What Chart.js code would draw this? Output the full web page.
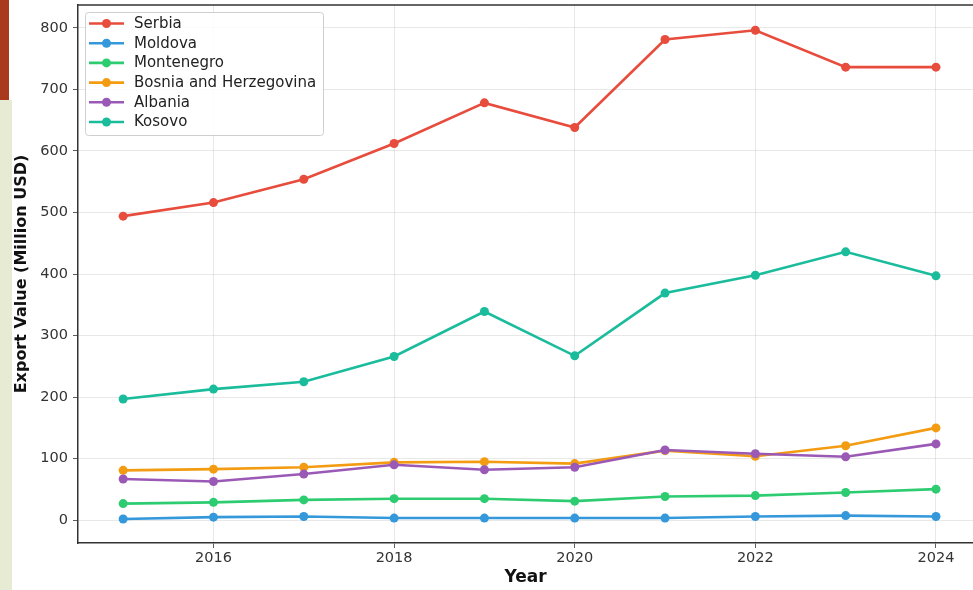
<!DOCTYPE html>
<html>
<head>
<meta charset="utf-8">
<script src="https://cdn.jsdelivr.net/npm/chart.js@4.4.1/dist/chart.umd.min.js"></script>
<style>
    body { margin: 0; overflow: hidden; background: #fff; width: 973px; height: 590px; position: relative; }
    #strip-red { position: absolute; left: 0; top: 0; width: 9px; height: 100px; background: #a93a1e; }
    #strip-beige { position: absolute; left: 0; top: 100px; width: 12px; height: 490px; background: #e7ebd3; }
    #wrap { position: absolute; left: 0; top: 0; width: 973px; height: 590px; }
</style>
</head>
<body>
<div id="strip-red"></div>
<div id="strip-beige"></div>
<div id="wrap"><canvas id="exports-chart" width="973" height="590"></canvas></div>
<script>
// Export values in million USD
const years = [2015, 2016, 2017, 2018, 2019, 2020, 2021, 2022, 2023, 2024];
const serbia      = [494, 516, 554, 612, 678, 638, 781, 796, 736, 736];
const moldova     = [2, 5, 6, 3.5, 3.5, 3.5, 3.5, 6, 7.5, 6];
const montenegro  = [27, 29, 33, 35, 35, 31, 38.5, 40, 45, 50.5];
const bosnia      = [81, 83, 86, 94, 95, 92, 113, 104, 121, 150];
const albania     = [67, 63, 75, 90, 82, 86, 114, 108, 103, 124];
const kosovo      = [197, 213, 225, 266, 339, 267, 369, 398, 436, 397];

const seriesNames  = ['Serbia', 'Moldova', 'Montenegro', 'Bosnia and Herzegovina', 'Albania', 'Kosovo'];
const seriesValues = [serbia, moldova, montenegro, bosnia, albania, kosovo];
const seriesColors = ['#e74c3c', '#3498db', '#2ecc71', '#f39c12', '#9b59b6', '#1abc9c'];

const xTicks = [2016, 2018, 2020, 2022, 2024];
const yTicks = [0, 100, 200, 300, 400, 500, 600, 700, 800];

const FONT = "'DejaVu Sans', sans-serif";

const datasets = seriesNames.map((name, i) => ({
    label: name,
    data: years.map((yr, j) => ({ x: yr, y: seriesValues[i][j] })),
    borderColor: seriesColors[i],
    backgroundColor: seriesColors[i],
    borderWidth: 2.6,
    pointRadius: 4.5,
    pointBorderWidth: 0,
    pointHoverRadius: 4.5,
    tension: 0,
    order: seriesNames.length - i   // later series drawn on top, like matplotlib
}));

// top spine of the axes box (the right one falls outside the crop)
const frame = {
    id: 'frame',
    afterDatasetsDraw(chart) {
        const { ctx, chartArea: a } = chart;
        ctx.save();
        ctx.strokeStyle = '#333';
        ctx.lineWidth = 1.5;
        ctx.beginPath();
        ctx.moveTo(a.left, a.top);
        ctx.lineTo(a.right, a.top);
        ctx.stroke();
        ctx.restore();
    }
};

// matplotlib style legend: line + marker handles in a framed box
const boxLegend = {
    id: 'boxLegend',
    afterDraw(chart) {
        const { ctx } = chart;
        const x0 = 85, y0 = 12, w = 238, h = 123;
        ctx.save();
        ctx.fillStyle = 'rgba(255,255,255,0.85)';
        ctx.strokeStyle = '#cfcfcf';
        ctx.lineWidth = 1;
        ctx.beginPath();
        ctx.roundRect(x0 + 0.5, y0 + 0.5, w, h, 3);
        ctx.fill();
        ctx.stroke();
        ctx.font = '15px ' + FONT;
        ctx.textBaseline = 'middle';
        seriesNames.forEach((name, i) => {
            const y = 23.5 + i * 19.7;
            ctx.strokeStyle = seriesColors[i];
            ctx.lineWidth = 2.6;
            ctx.beginPath();
            ctx.moveTo(89, y);
            ctx.lineTo(124, y);
            ctx.stroke();
            ctx.fillStyle = seriesColors[i];
            ctx.beginPath();
            ctx.arc(106.5, y, 4.5, 0, Math.PI * 2);
            ctx.fill();
            ctx.fillStyle = '#222';
            ctx.fillText(name, 134, y + 0.5);
        });
        ctx.restore();
    }
};

const gridOpts = {
    color: 'rgba(170,170,170,0.35)',
    borderDash: [4, 2],
    tickColor: '#333',
    tickBorderDash: [],
    tickLength: 5,
    lineWidth: 0.8
};

new Chart(document.getElementById('exports-chart'), {
    type: 'line',
    data: { datasets: datasets },
    options: {
        responsive: false,
        animation: false,
        layout: { autoPadding: false, padding: { top: 5, right: 0, left: 0, bottom: 0 } },
        plugins: {
            legend: { display: false },
            tooltip: { enabled: false }
        },
        scales: {
            x: {
                type: 'linear',
                min: 2014.5,
                max: 2024.41,
                afterBuildTicks: (scale) => { scale.ticks = xTicks.map(v => ({ value: v })); },
                afterFit: (scale) => {
                    scale.height = 47;
                    scale.paddingLeft = 0;
                    scale.paddingRight = 0;
                },
                ticks: {
                    color: '#333',
                    font: { family: FONT, size: 14.5 },
                    padding: 2,
                    maxRotation: 0,
                    callback: (v) => String(v)
                },
                grid: gridOpts,
                border: { display: true, color: '#333', width: 1.5 },
                title: {
                    display: true,
                    text: 'Year',
                    color: '#111',
                    font: { family: FONT, size: 17, weight: 'bold' },
                    padding: { top: 0, bottom: 2 }
                }
            },
            y: {
                min: -37,
                max: 837,
                afterBuildTicks: (scale) => { scale.ticks = yTicks.map(v => ({ value: v })); },
                afterFit: (scale) => {
                    scale.width = 78;
                    scale.paddingTop = 0;
                    scale.paddingBottom = 0;
                },
                ticks: {
                    color: '#333',
                    font: { family: FONT, size: 14.5 },
                    padding: 5
                },
                grid: gridOpts,
                border: { display: true, color: '#333', width: 1.5 },
                title: {
                    display: true,
                    text: 'Export Value (Million USD)',
                    color: '#111',
                    font: { family: FONT, size: 16, weight: 'bold' },
                    padding: { top: 12, bottom: 0 }
                }
            }
        }
    },
    plugins: [frame, boxLegend]
});
</script>
</body>
</html>
